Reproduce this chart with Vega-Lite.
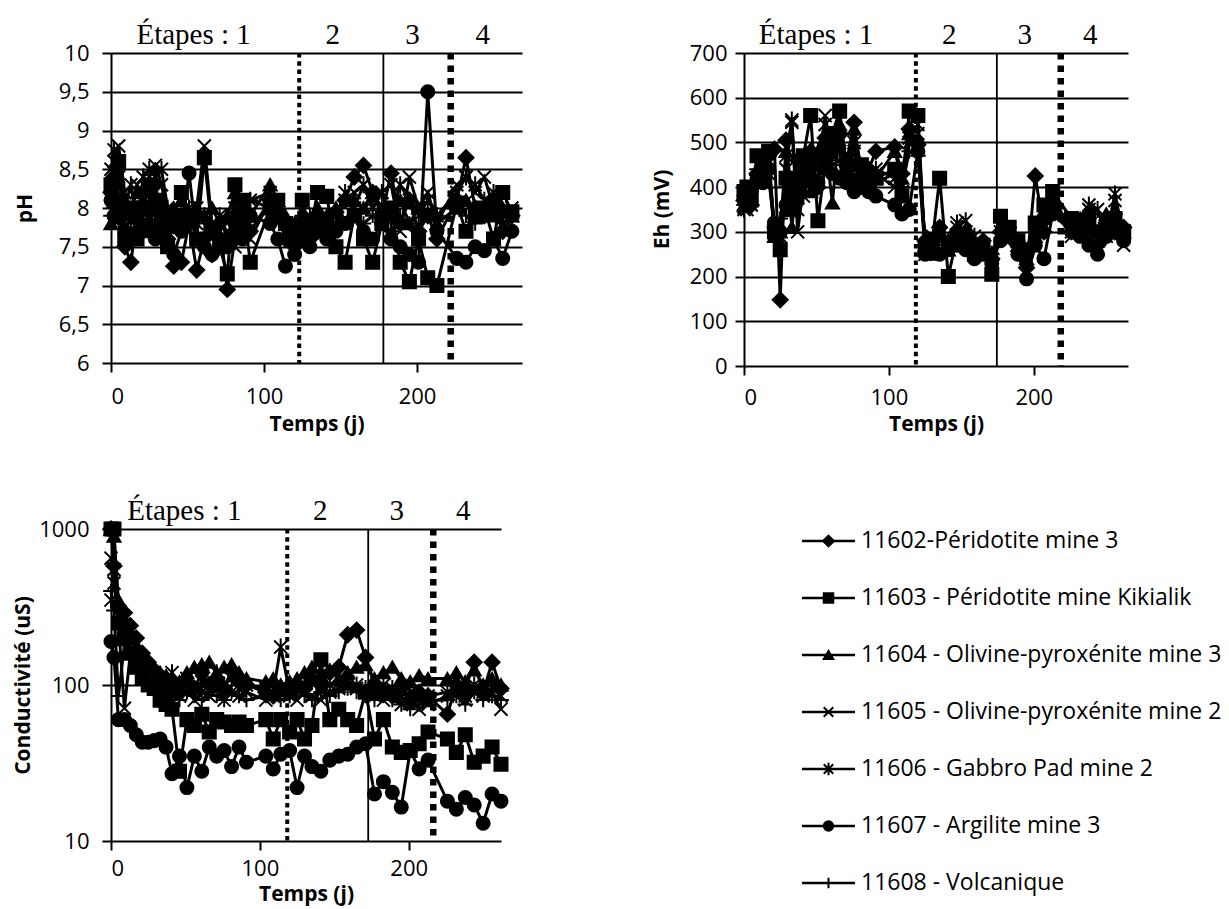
{
"$schema": "https://vega.github.io/schema/vega-lite/v6.json",
"background": "white",
"padding": {"left": 12, "top": 21, "right": 5, "bottom": 10},
"config": {
 "view": {"stroke": null},
 "font": "Open Sans",
 "axis": {"domainColor": "black", "domainWidth": 2, "tickColor": "black", "tickWidth": 2, "tickSize": 9, "labelFont": "Open Sans", "labelFontSize": 22, "labelColor": "black", "titleFont": "Open Sans", "titleFontSize": 21, "titleFontWeight": "bold", "titleColor": "black"},
 "axisX": {"grid": false, "domain": false, "labelPadding": 14, "titleBaseline": "middle"},
 "axisY": {"grid": true, "gridColor": "black", "gridWidth": 2, "gridOpacity": 1, "domain": true, "labelPadding": 13, "titleAngle": -90, "titleAlign": "center", "titleBaseline": "middle"}
},
"datasets": {
"bornes": [
{"panel":"pH","kind":"fin 1","t":123},{"panel":"pH","kind":"fin 2","t":178},{"panel":"pH","kind":"fin 3","t":222},
{"panel":"Eh","kind":"fin 1","t":118.6},{"panel":"Eh","kind":"fin 2","t":174.5},{"panel":"Eh","kind":"fin 3","t":218.6},
{"panel":"C","kind":"fin 1","t":118.4},{"panel":"C","kind":"fin 2","t":172.8},{"panel":"C","kind":"fin 3","t":216.5}
],
"etapes": [
{"panel":"pH","t":54,"label":"Étapes : 1"},{"panel":"pH","t":145,"label":"2"},{"panel":"pH","t":197,"label":"3"},{"panel":"pH","t":243,"label":"4"},
{"panel":"Eh","t":49.7,"label":"Étapes : 1"},{"panel":"Eh","t":141.7,"label":"2"},{"panel":"Eh","t":193.7,"label":"3"},{"panel":"Eh","t":239,"label":"4"},
{"panel":"C","t":49.3,"label":"Étapes : 1"},{"panel":"C","t":140.6,"label":"2"},{"panel":"C","t":192,"label":"3"},{"panel":"C","t":236.6,"label":"4"}
],
"legende": [
{"s":"11602","label":"11602-Péridotite mine 3"},
{"s":"11603","label":"11603 - Péridotite mine Kikialik"},
{"s":"11604","label":"11604 - Olivine-pyroxénite mine 3"},
{"s":"11605","label":"11605 - Olivine-pyroxénite mine 2"},
{"s":"11606","label":"11606 - Gabbro Pad mine 2"},
{"s":"11607","label":"11607 - Argilite mine 3"},
{"s":"11608","label":"11608 - Volcanique"}
],
"mesures": [
{"t":0,"s":"11602","ph":8.2,"eh":370,"c":1000},
{"t":2,"s":"11602","ph":8.4,"eh":390,"c":580},
{"t":5,"s":"11602","ph":8.0,"eh":360,"c":320},
{"t":9,"s":"11602","ph":7.5,"eh":430,"c":290},
{"t":13,"s":"11602","ph":7.3,"eh":460,"c":240},
{"t":17,"s":"11602","ph":7.9,"eh":470,"c":200},
{"t":21,"s":"11602","ph":8.2,"eh":485,"c":160},
{"t":25,"s":"11602","ph":7.7,"eh":148,"c":140},
{"t":29,"s":"11602","ph":8.3,"eh":505,"c":125},
{"t":33,"s":"11602","ph":7.9,"eh":380,"c":115},
{"t":37,"s":"11602","ph":7.6,"eh":460,"c":110},
{"t":41,"s":"11602","ph":7.25,"eh":420,"c":100},
{"t":46,"s":"11602","ph":7.3,"eh":480,"c":90},
{"t":51,"s":"11602","ph":7.8,"eh":400,"c":105},
{"t":56,"s":"11602","ph":7.2,"eh":510,"c":95},
{"t":61,"s":"11602","ph":7.6,"eh":480,"c":120},
{"t":66,"s":"11602","ph":7.4,"eh":520,"c":100},
{"t":71,"s":"11602","ph":7.8,"eh":460,"c":110},
{"t":76,"s":"11602","ph":6.95,"eh":545,"c":95},
{"t":81,"s":"11602","ph":7.6,"eh":420,"c":125},
{"t":86,"s":"11602","ph":7.9,"eh":440,"c":105},
{"t":91,"s":"11602","ph":7.7,"eh":480,"c":100},
{"t":104,"s":"11602","ph":8.1,"eh":490,"c":90},
{"t":109,"s":"11602","ph":7.9,"eh":430,"c":85},
{"t":114,"s":"11602","ph":7.6,"eh":530,"c":95},
{"t":120,"s":"11602","ph":7.5,"eh":495,"c":90},
{"t":125,"s":"11602","ph":7.8,"eh":280,"c":100},
{"t":130,"s":"11602","ph":7.6,"eh":260,"c":95},
{"t":135,"s":"11602","ph":7.9,"eh":310,"c":110},
{"t":141,"s":"11602","ph":7.7,"eh":270,"c":100},
{"t":147,"s":"11602","ph":7.95,"eh":290,"c":120},
{"t":153,"s":"11602","ph":8.1,"eh":300,"c":130},
{"t":159,"s":"11602","ph":8.4,"eh":260,"c":210},
{"t":165,"s":"11602","ph":8.55,"eh":280,"c":225},
{"t":171,"s":"11602","ph":8.2,"eh":240,"c":150},
{"t":177,"s":"11602","ph":7.9,"eh":300,"c":100},
{"t":183,"s":"11602","ph":8.45,"eh":290,"c":90},
{"t":189,"s":"11602","ph":7.8,"eh":270,"c":85},
{"t":195,"s":"11602","ph":8.1,"eh":220,"c":95},
{"t":201,"s":"11602","ph":7.7,"eh":425,"c":80},
{"t":207,"s":"11602","ph":7.9,"eh":300,"c":90},
{"t":213,"s":"11602","ph":7.6,"eh":350,"c":85},
{"t":226,"s":"11602","ph":8.1,"eh":320,"c":65},
{"t":232,"s":"11602","ph":8.65,"eh":300,"c":100},
{"t":238,"s":"11602","ph":8.0,"eh":340,"c":95},
{"t":244,"s":"11602","ph":7.9,"eh":270,"c":140},
{"t":250,"s":"11602","ph":8.1,"eh":320,"c":90},
{"t":256,"s":"11602","ph":7.7,"eh":300,"c":140},
{"t":262,"s":"11602","ph":7.9,"eh":310,"c":95},
{"t":0,"s":"11603","ph":8.3,"eh":390,"c":1000},
{"t":2,"s":"11603","ph":8.1,"eh":400,"c":1000},
{"t":5,"s":"11603","ph":8.6,"eh":380,"c":250},
{"t":9,"s":"11603","ph":7.6,"eh":470,"c":200},
{"t":13,"s":"11603","ph":8.0,"eh":440,"c":160},
{"t":17,"s":"11603","ph":7.6,"eh":480,"c":130},
{"t":21,"s":"11603","ph":8.0,"eh":300,"c":110},
{"t":25,"s":"11603","ph":8.3,"eh":260,"c":100},
{"t":29,"s":"11603","ph":8.1,"eh":420,"c":95},
{"t":33,"s":"11603","ph":7.7,"eh":350,"c":80},
{"t":37,"s":"11603","ph":7.5,"eh":390,"c":75},
{"t":41,"s":"11603","ph":7.9,"eh":470,"c":70},
{"t":46,"s":"11603","ph":8.2,"eh":560,"c":28},
{"t":51,"s":"11603","ph":7.9,"eh":325,"c":60},
{"t":56,"s":"11603","ph":7.6,"eh":450,"c":55},
{"t":61,"s":"11603","ph":8.65,"eh":520,"c":65},
{"t":66,"s":"11603","ph":7.7,"eh":570,"c":50},
{"t":71,"s":"11603","ph":7.5,"eh":440,"c":60},
{"t":76,"s":"11603","ph":7.15,"eh":410,"c":58},
{"t":81,"s":"11603","ph":8.3,"eh":450,"c":55},
{"t":86,"s":"11603","ph":8.1,"eh":400,"c":58},
{"t":91,"s":"11603","ph":7.3,"eh":420,"c":55},
{"t":104,"s":"11603","ph":8.0,"eh":440,"c":60},
{"t":109,"s":"11603","ph":8.1,"eh":380,"c":45},
{"t":114,"s":"11603","ph":7.8,"eh":570,"c":60},
{"t":120,"s":"11603","ph":7.6,"eh":560,"c":50},
{"t":125,"s":"11603","ph":8.1,"eh":260,"c":60},
{"t":130,"s":"11603","ph":7.7,"eh":280,"c":45},
{"t":135,"s":"11603","ph":8.2,"eh":420,"c":55},
{"t":141,"s":"11603","ph":8.15,"eh":200,"c":145},
{"t":147,"s":"11603","ph":7.5,"eh":290,"c":60},
{"t":153,"s":"11603","ph":7.3,"eh":280,"c":70},
{"t":159,"s":"11603","ph":7.9,"eh":250,"c":60},
{"t":165,"s":"11603","ph":7.6,"eh":270,"c":55},
{"t":171,"s":"11603","ph":7.3,"eh":205,"c":90},
{"t":177,"s":"11603","ph":7.8,"eh":335,"c":45},
{"t":183,"s":"11603","ph":8.0,"eh":310,"c":60},
{"t":189,"s":"11603","ph":7.3,"eh":280,"c":40},
{"t":195,"s":"11603","ph":7.05,"eh":260,"c":37},
{"t":201,"s":"11603","ph":7.6,"eh":320,"c":38},
{"t":207,"s":"11603","ph":7.1,"eh":360,"c":42},
{"t":213,"s":"11603","ph":7.0,"eh":390,"c":50},
{"t":226,"s":"11603","ph":8.05,"eh":330,"c":45},
{"t":232,"s":"11603","ph":7.7,"eh":310,"c":37},
{"t":238,"s":"11603","ph":7.9,"eh":320,"c":48},
{"t":244,"s":"11603","ph":8.0,"eh":300,"c":32},
{"t":250,"s":"11603","ph":7.6,"eh":310,"c":35},
{"t":256,"s":"11603","ph":8.2,"eh":330,"c":40},
{"t":262,"s":"11603","ph":7.95,"eh":300,"c":31},
{"t":0,"s":"11604","ph":7.8,"eh":360,"c":1000},
{"t":2,"s":"11604","ph":8.2,"eh":380,"c":900},
{"t":5,"s":"11604","ph":8.3,"eh":370,"c":350},
{"t":9,"s":"11604","ph":8.1,"eh":440,"c":250},
{"t":13,"s":"11604","ph":8.0,"eh":460,"c":200},
{"t":17,"s":"11604","ph":8.2,"eh":450,"c":170},
{"t":21,"s":"11604","ph":8.1,"eh":290,"c":150},
{"t":25,"s":"11604","ph":8.2,"eh":300,"c":130},
{"t":29,"s":"11604","ph":8.0,"eh":480,"c":125},
{"t":33,"s":"11604","ph":8.1,"eh":310,"c":120},
{"t":37,"s":"11604","ph":7.8,"eh":420,"c":115},
{"t":41,"s":"11604","ph":8.0,"eh":440,"c":110},
{"t":46,"s":"11604","ph":8.1,"eh":390,"c":105},
{"t":51,"s":"11604","ph":7.9,"eh":480,"c":120},
{"t":56,"s":"11604","ph":8.0,"eh":500,"c":130},
{"t":61,"s":"11604","ph":7.9,"eh":365,"c":135},
{"t":66,"s":"11604","ph":8.0,"eh":540,"c":140},
{"t":71,"s":"11604","ph":7.8,"eh":430,"c":120},
{"t":76,"s":"11604","ph":7.9,"eh":530,"c":130},
{"t":81,"s":"11604","ph":8.2,"eh":440,"c":135},
{"t":86,"s":"11604","ph":8.0,"eh":410,"c":120},
{"t":91,"s":"11604","ph":7.9,"eh":420,"c":110},
{"t":104,"s":"11604","ph":8.3,"eh":480,"c":105},
{"t":109,"s":"11604","ph":8.1,"eh":420,"c":110},
{"t":114,"s":"11604","ph":7.9,"eh":520,"c":100},
{"t":120,"s":"11604","ph":7.8,"eh":510,"c":105},
{"t":125,"s":"11604","ph":7.9,"eh":270,"c":110},
{"t":130,"s":"11604","ph":7.8,"eh":250,"c":120},
{"t":135,"s":"11604","ph":8.0,"eh":290,"c":130},
{"t":141,"s":"11604","ph":7.9,"eh":260,"c":115},
{"t":147,"s":"11604","ph":8.0,"eh":300,"c":125},
{"t":153,"s":"11604","ph":7.8,"eh":290,"c":110},
{"t":159,"s":"11604","ph":8.1,"eh":280,"c":120},
{"t":165,"s":"11604","ph":8.0,"eh":260,"c":130},
{"t":171,"s":"11604","ph":8.2,"eh":250,"c":135},
{"t":177,"s":"11604","ph":8.0,"eh":310,"c":110},
{"t":183,"s":"11604","ph":7.9,"eh":300,"c":120},
{"t":189,"s":"11604","ph":8.1,"eh":270,"c":130},
{"t":195,"s":"11604","ph":7.8,"eh":240,"c":110},
{"t":201,"s":"11604","ph":8.0,"eh":290,"c":105},
{"t":207,"s":"11604","ph":7.9,"eh":330,"c":115},
{"t":213,"s":"11604","ph":7.8,"eh":370,"c":110},
{"t":226,"s":"11604","ph":8.0,"eh":310,"c":110},
{"t":232,"s":"11604","ph":8.1,"eh":330,"c":120},
{"t":238,"s":"11604","ph":7.9,"eh":300,"c":105},
{"t":244,"s":"11604","ph":8.0,"eh":280,"c":125},
{"t":250,"s":"11604","ph":7.9,"eh":340,"c":100},
{"t":256,"s":"11604","ph":8.0,"eh":320,"c":110},
{"t":262,"s":"11604","ph":7.9,"eh":300,"c":100},
{"t":0,"s":"11605","ph":8.5,"eh":355,"c":650},
{"t":2,"s":"11605","ph":8.6,"eh":350,"c":450},
{"t":5,"s":"11605","ph":8.8,"eh":380,"c":250},
{"t":9,"s":"11605","ph":8.2,"eh":420,"c":71},
{"t":13,"s":"11605","ph":7.9,"eh":450,"c":160},
{"t":17,"s":"11605","ph":8.3,"eh":430,"c":150},
{"t":21,"s":"11605","ph":8.0,"eh":310,"c":130},
{"t":25,"s":"11605","ph":8.4,"eh":290,"c":120},
{"t":29,"s":"11605","ph":8.55,"eh":440,"c":110},
{"t":33,"s":"11605","ph":8.3,"eh":545,"c":100},
{"t":37,"s":"11605","ph":7.9,"eh":300,"c":95},
{"t":41,"s":"11605","ph":7.7,"eh":400,"c":90},
{"t":46,"s":"11605","ph":7.9,"eh":460,"c":85},
{"t":51,"s":"11605","ph":7.8,"eh":440,"c":95},
{"t":56,"s":"11605","ph":8.0,"eh":560,"c":80},
{"t":61,"s":"11605","ph":8.8,"eh":470,"c":90},
{"t":66,"s":"11605","ph":7.8,"eh":500,"c":85},
{"t":71,"s":"11605","ph":7.6,"eh":440,"c":95},
{"t":76,"s":"11605","ph":7.7,"eh":480,"c":80},
{"t":81,"s":"11605","ph":7.5,"eh":410,"c":90},
{"t":86,"s":"11605","ph":7.9,"eh":420,"c":85},
{"t":91,"s":"11605","ph":7.6,"eh":430,"c":90},
{"t":104,"s":"11605","ph":8.1,"eh":400,"c":80},
{"t":109,"s":"11605","ph":7.9,"eh":380,"c":85},
{"t":114,"s":"11605","ph":7.7,"eh":510,"c":90},
{"t":120,"s":"11605","ph":7.7,"eh":540,"c":85},
{"t":125,"s":"11605","ph":7.6,"eh":250,"c":80},
{"t":130,"s":"11605","ph":7.8,"eh":290,"c":90},
{"t":135,"s":"11605","ph":7.7,"eh":280,"c":85},
{"t":141,"s":"11605","ph":7.9,"eh":270,"c":80},
{"t":147,"s":"11605","ph":7.8,"eh":310,"c":90},
{"t":153,"s":"11605","ph":8.1,"eh":300,"c":95},
{"t":159,"s":"11605","ph":8.2,"eh":270,"c":100},
{"t":165,"s":"11605","ph":8.3,"eh":250,"c":95},
{"t":171,"s":"11605","ph":8.1,"eh":240,"c":90},
{"t":177,"s":"11605","ph":8.2,"eh":300,"c":85},
{"t":183,"s":"11605","ph":8.3,"eh":290,"c":80},
{"t":189,"s":"11605","ph":7.7,"eh":260,"c":90},
{"t":195,"s":"11605","ph":8.4,"eh":210,"c":75},
{"t":201,"s":"11605","ph":8.0,"eh":300,"c":85},
{"t":207,"s":"11605","ph":8.2,"eh":340,"c":70},
{"t":213,"s":"11605","ph":7.8,"eh":360,"c":75},
{"t":226,"s":"11605","ph":8.3,"eh":290,"c":85},
{"t":232,"s":"11605","ph":8.4,"eh":320,"c":90},
{"t":238,"s":"11605","ph":8.2,"eh":350,"c":80},
{"t":244,"s":"11605","ph":8.4,"eh":260,"c":95},
{"t":250,"s":"11605","ph":8.0,"eh":300,"c":85},
{"t":256,"s":"11605","ph":7.9,"eh":370,"c":90},
{"t":262,"s":"11605","ph":8.0,"eh":270,"c":70},
{"t":0,"s":"11606","ph":8.2,"eh":350,"c":350},
{"t":2,"s":"11606","ph":8.75,"eh":370,"c":550},
{"t":5,"s":"11606","ph":8.4,"eh":360,"c":280},
{"t":9,"s":"11606","ph":8.0,"eh":410,"c":220},
{"t":13,"s":"11606","ph":8.3,"eh":440,"c":180},
{"t":17,"s":"11606","ph":7.8,"eh":460,"c":150},
{"t":21,"s":"11606","ph":8.4,"eh":300,"c":135},
{"t":25,"s":"11606","ph":8.5,"eh":280,"c":125},
{"t":29,"s":"11606","ph":8.4,"eh":470,"c":120},
{"t":33,"s":"11606","ph":8.5,"eh":550,"c":110},
{"t":37,"s":"11606","ph":8.0,"eh":350,"c":105},
{"t":41,"s":"11606","ph":7.8,"eh":380,"c":120},
{"t":46,"s":"11606","ph":7.9,"eh":430,"c":100},
{"t":51,"s":"11606","ph":8.0,"eh":480,"c":110},
{"t":56,"s":"11606","ph":7.8,"eh":540,"c":95},
{"t":61,"s":"11606","ph":7.9,"eh":500,"c":105},
{"t":66,"s":"11606","ph":7.7,"eh":480,"c":100},
{"t":71,"s":"11606","ph":7.9,"eh":450,"c":120},
{"t":76,"s":"11606","ph":7.6,"eh":500,"c":100},
{"t":81,"s":"11606","ph":8.0,"eh":430,"c":110},
{"t":86,"s":"11606","ph":7.7,"eh":410,"c":95},
{"t":91,"s":"11606","ph":8.1,"eh":440,"c":100},
{"t":104,"s":"11606","ph":8.2,"eh":420,"c":95},
{"t":109,"s":"11606","ph":7.9,"eh":390,"c":90},
{"t":114,"s":"11606","ph":7.8,"eh":500,"c":175},
{"t":120,"s":"11606","ph":7.7,"eh":520,"c":90},
{"t":125,"s":"11606","ph":7.8,"eh":260,"c":95},
{"t":130,"s":"11606","ph":7.9,"eh":270,"c":100},
{"t":135,"s":"11606","ph":7.7,"eh":300,"c":105},
{"t":141,"s":"11606","ph":7.8,"eh":280,"c":95},
{"t":147,"s":"11606","ph":7.9,"eh":320,"c":100},
{"t":153,"s":"11606","ph":8.2,"eh":325,"c":110},
{"t":159,"s":"11606","ph":8.0,"eh":290,"c":105},
{"t":165,"s":"11606","ph":8.3,"eh":270,"c":100},
{"t":171,"s":"11606","ph":8.0,"eh":250,"c":95},
{"t":177,"s":"11606","ph":8.2,"eh":290,"c":90},
{"t":183,"s":"11606","ph":7.9,"eh":300,"c":100},
{"t":189,"s":"11606","ph":8.3,"eh":280,"c":95},
{"t":195,"s":"11606","ph":8.1,"eh":230,"c":85},
{"t":201,"s":"11606","ph":7.9,"eh":310,"c":90},
{"t":207,"s":"11606","ph":8.1,"eh":350,"c":80},
{"t":213,"s":"11606","ph":7.9,"eh":380,"c":85},
{"t":226,"s":"11606","ph":8.2,"eh":300,"c":90},
{"t":232,"s":"11606","ph":8.4,"eh":310,"c":95},
{"t":238,"s":"11606","ph":8.3,"eh":360,"c":85},
{"t":244,"s":"11606","ph":8.1,"eh":350,"c":100},
{"t":250,"s":"11606","ph":8.2,"eh":290,"c":90},
{"t":256,"s":"11606","ph":7.8,"eh":385,"c":95},
{"t":262,"s":"11606","ph":7.9,"eh":290,"c":85},
{"t":0,"s":"11607","ph":8.1,"eh":380,"c":190},
{"t":2,"s":"11607","ph":7.9,"eh":360,"c":150},
{"t":5,"s":"11607","ph":8.0,"eh":390,"c":60},
{"t":9,"s":"11607","ph":7.7,"eh":420,"c":60},
{"t":13,"s":"11607","ph":7.6,"eh":410,"c":55},
{"t":17,"s":"11607","ph":7.9,"eh":440,"c":48},
{"t":21,"s":"11607","ph":7.7,"eh":320,"c":43},
{"t":25,"s":"11607","ph":7.8,"eh":300,"c":43},
{"t":29,"s":"11607","ph":7.6,"eh":360,"c":44},
{"t":33,"s":"11607","ph":7.9,"eh":400,"c":45},
{"t":37,"s":"11607","ph":7.5,"eh":380,"c":40},
{"t":41,"s":"11607","ph":7.4,"eh":440,"c":27},
{"t":46,"s":"11607","ph":7.7,"eh":420,"c":35},
{"t":51,"s":"11607","ph":8.45,"eh":410,"c":22},
{"t":56,"s":"11607","ph":7.6,"eh":460,"c":35},
{"t":61,"s":"11607","ph":7.5,"eh":430,"c":28},
{"t":66,"s":"11607","ph":7.4,"eh":420,"c":40},
{"t":71,"s":"11607","ph":7.6,"eh":410,"c":35},
{"t":76,"s":"11607","ph":7.5,"eh":390,"c":38},
{"t":81,"s":"11607","ph":7.8,"eh":400,"c":30},
{"t":86,"s":"11607","ph":7.6,"eh":390,"c":40},
{"t":91,"s":"11607","ph":7.9,"eh":380,"c":32},
{"t":104,"s":"11607","ph":7.8,"eh":360,"c":35},
{"t":109,"s":"11607","ph":7.6,"eh":340,"c":29},
{"t":114,"s":"11607","ph":7.25,"eh":350,"c":36},
{"t":120,"s":"11607","ph":7.4,"eh":480,"c":38},
{"t":125,"s":"11607","ph":7.6,"eh":250,"c":22},
{"t":130,"s":"11607","ph":7.5,"eh":260,"c":35},
{"t":135,"s":"11607","ph":7.7,"eh":250,"c":30},
{"t":141,"s":"11607","ph":7.6,"eh":260,"c":28},
{"t":147,"s":"11607","ph":7.7,"eh":270,"c":33},
{"t":153,"s":"11607","ph":7.8,"eh":260,"c":35},
{"t":159,"s":"11607","ph":7.9,"eh":240,"c":36},
{"t":165,"s":"11607","ph":7.7,"eh":250,"c":40},
{"t":171,"s":"11607","ph":7.6,"eh":230,"c":42},
{"t":177,"s":"11607","ph":7.8,"eh":280,"c":20},
{"t":183,"s":"11607","ph":7.6,"eh":290,"c":24},
{"t":189,"s":"11607","ph":7.5,"eh":250,"c":20.5},
{"t":195,"s":"11607","ph":7.4,"eh":195,"c":16.5},
{"t":201,"s":"11607","ph":7.3,"eh":270,"c":38},
{"t":207,"s":"11607","ph":9.5,"eh":240,"c":29},
{"t":213,"s":"11607","ph":7.7,"eh":340,"c":33},
{"t":226,"s":"11607","ph":7.35,"eh":300,"c":18},
{"t":232,"s":"11607","ph":7.3,"eh":290,"c":16},
{"t":238,"s":"11607","ph":7.5,"eh":270,"c":19},
{"t":244,"s":"11607","ph":7.45,"eh":250,"c":17},
{"t":250,"s":"11607","ph":7.6,"eh":290,"c":13},
{"t":256,"s":"11607","ph":7.35,"eh":300,"c":20},
{"t":262,"s":"11607","ph":7.7,"eh":280,"c":18},
{"t":0,"s":"11608","ph":7.9,"eh":360,"c":400},
{"t":2,"s":"11608","ph":8.0,"eh":380,"c":300},
{"t":5,"s":"11608","ph":7.8,"eh":400,"c":85},
{"t":9,"s":"11608","ph":7.9,"eh":440,"c":180},
{"t":13,"s":"11608","ph":7.8,"eh":430,"c":150},
{"t":17,"s":"11608","ph":7.9,"eh":420,"c":130},
{"t":21,"s":"11608","ph":7.8,"eh":310,"c":120},
{"t":25,"s":"11608","ph":7.9,"eh":330,"c":110},
{"t":29,"s":"11608","ph":7.8,"eh":400,"c":100},
{"t":33,"s":"11608","ph":7.9,"eh":420,"c":95},
{"t":37,"s":"11608","ph":7.7,"eh":410,"c":90},
{"t":41,"s":"11608","ph":7.8,"eh":430,"c":85},
{"t":46,"s":"11608","ph":7.9,"eh":450,"c":80},
{"t":51,"s":"11608","ph":7.8,"eh":440,"c":90},
{"t":56,"s":"11608","ph":7.9,"eh":470,"c":85},
{"t":61,"s":"11608","ph":7.8,"eh":450,"c":80},
{"t":66,"s":"11608","ph":7.7,"eh":460,"c":90},
{"t":71,"s":"11608","ph":7.8,"eh":430,"c":85},
{"t":76,"s":"11608","ph":7.9,"eh":450,"c":80},
{"t":81,"s":"11608","ph":7.7,"eh":420,"c":90},
{"t":86,"s":"11608","ph":7.8,"eh":430,"c":85},
{"t":91,"s":"11608","ph":8.1,"eh":410,"c":80},
{"t":104,"s":"11608","ph":8.0,"eh":430,"c":85},
{"t":109,"s":"11608","ph":7.9,"eh":400,"c":90},
{"t":114,"s":"11608","ph":7.8,"eh":480,"c":80},
{"t":120,"s":"11608","ph":7.8,"eh":470,"c":85},
{"t":125,"s":"11608","ph":7.9,"eh":280,"c":90},
{"t":130,"s":"11608","ph":7.8,"eh":270,"c":85},
{"t":135,"s":"11608","ph":7.9,"eh":290,"c":80},
{"t":141,"s":"11608","ph":7.8,"eh":280,"c":90},
{"t":147,"s":"11608","ph":7.9,"eh":300,"c":85},
{"t":153,"s":"11608","ph":7.8,"eh":290,"c":90},
{"t":159,"s":"11608","ph":7.9,"eh":270,"c":95},
{"t":165,"s":"11608","ph":7.8,"eh":260,"c":90},
{"t":171,"s":"11608","ph":7.9,"eh":250,"c":85},
{"t":177,"s":"11608","ph":7.8,"eh":300,"c":80},
{"t":183,"s":"11608","ph":7.7,"eh":310,"c":85},
{"t":189,"s":"11608","ph":7.9,"eh":280,"c":80},
{"t":195,"s":"11608","ph":7.8,"eh":250,"c":75},
{"t":201,"s":"11608","ph":7.7,"eh":300,"c":70},
{"t":207,"s":"11608","ph":7.9,"eh":320,"c":75},
{"t":213,"s":"11608","ph":7.9,"eh":360,"c":80},
{"t":226,"s":"11608","ph":8.15,"eh":310,"c":80},
{"t":232,"s":"11608","ph":7.9,"eh":320,"c":85},
{"t":238,"s":"11608","ph":7.8,"eh":330,"c":75},
{"t":244,"s":"11608","ph":7.9,"eh":300,"c":90},
{"t":250,"s":"11608","ph":8.0,"eh":320,"c":80},
{"t":256,"s":"11608","ph":7.8,"eh":340,"c":85},
{"t":262,"s":"11608","ph":7.9,"eh":310,"c":80}
]
},
"columns": 2,
"spacing": {"row": 163, "column": 222},
"bounds": "flush",
"concat": [
{
"width": 411, "height": 310,
"layer": [
{"data": {"name": "bornes"}, "transform": [{"filter": "datum.panel === 'pH'"}],
 "mark": {"type": "rule", "color": "black"},
 "encoding": {
  "x": {"field": "t", "type": "quantitative", "scale": {"domain": [0, 268.6], "nice": false, "zero": false}, "axis": {"values": [0, 100, 200], "title": "Temps (j)", "titleY": 61}},
  "strokeDash": {"field": "kind", "type": "nominal", "scale": {"domain": ["fin 1", "fin 2", "fin 3"], "range": [[4.5, 3.8], [1, 0], [6.5, 6]]}, "legend": null},
  "strokeWidth": {"field": "kind", "type": "nominal", "scale": {"type": "ordinal", "domain": ["fin 1", "fin 2", "fin 3"], "range": [4, 1.8, 6.5]}, "legend": null}
 }},
{"data": {"name": "mesures"},
 "mark": {"type": "line", "color": "black", "strokeWidth": 3},
 "encoding": {
  "x": {"field": "t", "type": "quantitative", "scale": {"domain": [0, 268.6], "nice": false, "zero": false}, "axis": {"values": [0, 100, 200], "title": "Temps (j)", "titleY": 61}},
  "y": {"field": "ph", "type": "quantitative", "scale": {"domain": [6, 10], "nice": false, "zero": false}, "axis": {"values": [6, 6.5, 7, 7.5, 8, 8.5, 9, 9.5, 10], "format": "~g", "labelExpr": "replace(datum.label, '.', ',')", "title": "pH", "titleX": -86, "titleY": 155}},
  "detail": {"field": "s"}
 }},
{"data": {"name": "mesures"},
 "mark": {"type": "point", "filled": true, "fill": "black", "stroke": "black", "strokeWidth": 2, "size": 170, "opacity": 1},
 "encoding": {
  "x": {"field": "t", "type": "quantitative", "scale": {"domain": [0, 268.6], "nice": false, "zero": false}, "axis": {"values": [0, 100, 200], "title": "Temps (j)", "titleY": 61}},
  "y": {"field": "ph", "type": "quantitative", "scale": {"domain": [6, 10], "nice": false, "zero": false}, "axis": {"values": [6, 6.5, 7, 7.5, 8, 8.5, 9, 9.5, 10], "format": "~g", "labelExpr": "replace(datum.label, '.', ',')", "title": "pH", "titleX": -86, "titleY": 155}},
  "shape": {"field": "s", "type": "nominal", "scale": {"domain": ["11602", "11603", "11604", "11605", "11606", "11607", "11608"], "range": ["M-1.15,0L0,-1.15L1.15,0L0,1.15Z", "square", "triangle-up", "M-1,-1L1,1M-1,1L1,-1", "M-1,-1L1,1M-1,1L1,-1M0,-1.3L0,1.3", "circle", "M-1.2,0L1.2,0M0,-1.1L0,1.1"]}, "legend": null}
 }},
{"data": {"name": "etapes"}, "transform": [{"filter": "datum.panel === 'pH'"}],
 "mark": {"type": "text", "font": "Liberation Serif", "fontSize": 29, "color": "black", "baseline": "alphabetic", "dy": -9},
 "encoding": {
  "x": {"field": "t", "type": "quantitative", "scale": {"domain": [0, 268.6], "nice": false, "zero": false}, "axis": {"values": [0, 100, 200], "title": "Temps (j)", "titleY": 61}},
  "y": {"datum": 10, "type": "quantitative", "scale": {"domain": [6, 10], "nice": false, "zero": false}, "axis": {"values": [6, 6.5, 7, 7.5, 8, 8.5, 9, 9.5, 10], "format": "~g", "labelExpr": "replace(datum.label, '.', ',')", "title": "pH", "titleX": -86, "titleY": 155}},
  "text": {"field": "label"}
 }}
]
},
{
"width": 384, "height": 313,
"layer": [
{"data": {"name": "bornes"}, "transform": [{"filter": "datum.panel === 'Eh'"}],
 "mark": {"type": "rule", "color": "black"},
 "encoding": {
  "x": {"field": "t", "type": "quantitative", "scale": {"domain": [0, 265], "nice": false, "zero": false}, "axis": {"values": [0, 100, 200], "title": "Temps (j)", "titleY": 58, "labelPadding": 12}},
  "strokeDash": {"field": "kind", "type": "nominal", "scale": {"domain": ["fin 1", "fin 2", "fin 3"], "range": [[4.5, 3.8], [1, 0], [6.5, 6]]}, "legend": null},
  "strokeWidth": {"field": "kind", "type": "nominal", "scale": {"type": "ordinal", "domain": ["fin 1", "fin 2", "fin 3"], "range": [4, 1.8, 6.5]}, "legend": null}
 }},
{"data": {"name": "mesures"},
 "mark": {"type": "line", "color": "black", "strokeWidth": 3},
 "encoding": {
  "x": {"field": "t", "type": "quantitative", "scale": {"domain": [0, 265], "nice": false, "zero": false}, "axis": {"values": [0, 100, 200], "title": "Temps (j)", "titleY": 58, "labelPadding": 12}},
  "y": {"field": "eh", "type": "quantitative", "scale": {"domain": [0, 700], "nice": false, "zero": false}, "axis": {"values": [0, 100, 200, 300, 400, 500, 600, 700], "title": "Eh (mV)", "titleX": -82, "titleY": 156, "labelPadding": 8}},
  "detail": {"field": "s"}
 }},
{"data": {"name": "mesures"},
 "mark": {"type": "point", "filled": true, "fill": "black", "stroke": "black", "strokeWidth": 2, "size": 170, "opacity": 1},
 "encoding": {
  "x": {"field": "t", "type": "quantitative", "scale": {"domain": [0, 265], "nice": false, "zero": false}, "axis": {"values": [0, 100, 200], "title": "Temps (j)", "titleY": 58, "labelPadding": 12}},
  "y": {"field": "eh", "type": "quantitative", "scale": {"domain": [0, 700], "nice": false, "zero": false}, "axis": {"values": [0, 100, 200, 300, 400, 500, 600, 700], "title": "Eh (mV)", "titleX": -82, "titleY": 156, "labelPadding": 8}},
  "shape": {"field": "s", "type": "nominal", "scale": {"domain": ["11602", "11603", "11604", "11605", "11606", "11607", "11608"], "range": ["M-1.15,0L0,-1.15L1.15,0L0,1.15Z", "square", "triangle-up", "M-1,-1L1,1M-1,1L1,-1", "M-1,-1L1,1M-1,1L1,-1M0,-1.3L0,1.3", "circle", "M-1.2,0L1.2,0M0,-1.1L0,1.1"]}, "legend": null}
 }},
{"data": {"name": "etapes"}, "transform": [{"filter": "datum.panel === 'Eh'"}],
 "mark": {"type": "text", "font": "Liberation Serif", "fontSize": 29, "color": "black", "baseline": "alphabetic", "dy": -9},
 "encoding": {
  "x": {"field": "t", "type": "quantitative", "scale": {"domain": [0, 265], "nice": false, "zero": false}, "axis": {"values": [0, 100, 200], "title": "Temps (j)", "titleY": 58, "labelPadding": 12}},
  "y": {"datum": 700, "type": "quantitative", "scale": {"domain": [0, 700], "nice": false, "zero": false}, "axis": {"values": [0, 100, 200, 300, 400, 500, 600, 700], "title": "Eh (mV)", "titleX": -82, "titleY": 156, "labelPadding": 8}},
  "text": {"field": "label"}
 }}
]
},
{
"width": 390, "height": 312,
"layer": [
{"data": {"name": "bornes"}, "transform": [{"filter": "datum.panel === 'C'"}],
 "mark": {"type": "rule", "color": "black"},
 "encoding": {
  "x": {"field": "t", "type": "quantitative", "scale": {"domain": [0, 262], "nice": false, "zero": false}, "axis": {"values": [0, 100, 200], "title": "Temps (j)", "titleY": 53, "labelPadding": 8}},
  "strokeDash": {"field": "kind", "type": "nominal", "scale": {"domain": ["fin 1", "fin 2", "fin 3"], "range": [[4.5, 3.8], [1, 0], [6.5, 6]]}, "legend": null},
  "strokeWidth": {"field": "kind", "type": "nominal", "scale": {"type": "ordinal", "domain": ["fin 1", "fin 2", "fin 3"], "range": [4, 1.8, 6.5]}, "legend": null}
 }},
{"data": {"name": "mesures"},
 "mark": {"type": "line", "color": "black", "strokeWidth": 3},
 "encoding": {
  "x": {"field": "t", "type": "quantitative", "scale": {"domain": [0, 262], "nice": false, "zero": false}, "axis": {"values": [0, 100, 200], "title": "Temps (j)", "titleY": 53, "labelPadding": 8}},
  "y": {"field": "c", "type": "quantitative", "scale": {"type": "log", "domain": [10, 1000], "nice": false}, "axis": {"values": [10, 100, 1000], "format": "d", "title": "Conductivité (uS)", "titleX": -88, "titleY": 156}},
  "detail": {"field": "s"}
 }},
{"data": {"name": "mesures"},
 "mark": {"type": "point", "filled": true, "fill": "black", "stroke": "black", "strokeWidth": 2, "size": 170, "opacity": 1},
 "encoding": {
  "x": {"field": "t", "type": "quantitative", "scale": {"domain": [0, 262], "nice": false, "zero": false}, "axis": {"values": [0, 100, 200], "title": "Temps (j)", "titleY": 53, "labelPadding": 8}},
  "y": {"field": "c", "type": "quantitative", "scale": {"type": "log", "domain": [10, 1000], "nice": false}, "axis": {"values": [10, 100, 1000], "format": "d", "title": "Conductivité (uS)", "titleX": -88, "titleY": 156}},
  "shape": {"field": "s", "type": "nominal", "scale": {"domain": ["11602", "11603", "11604", "11605", "11606", "11607", "11608"], "range": ["M-1.15,0L0,-1.15L1.15,0L0,1.15Z", "square", "triangle-up", "M-1,-1L1,1M-1,1L1,-1", "M-1,-1L1,1M-1,1L1,-1M0,-1.3L0,1.3", "circle", "M-1.2,0L1.2,0M0,-1.1L0,1.1"]}, "legend": null}
 }},
{"data": {"name": "etapes"}, "transform": [{"filter": "datum.panel === 'C'"}],
 "mark": {"type": "text", "font": "Liberation Serif", "fontSize": 29, "color": "black", "baseline": "alphabetic", "dy": -9},
 "encoding": {
  "x": {"field": "t", "type": "quantitative", "scale": {"domain": [0, 262], "nice": false, "zero": false}, "axis": {"values": [0, 100, 200], "title": "Temps (j)", "titleY": 53, "labelPadding": 8}},
  "y": {"datum": 1000, "type": "quantitative", "scale": {"type": "log", "domain": [10, 1000], "nice": false}, "axis": {"values": [10, 100, 1000], "format": "d", "title": "Conductivité (uS)", "titleX": -88, "titleY": 156}},
  "text": {"field": "label"}
 }}
]
},
{
"width": 111, "height": 366,
"data": {"name": "legende"},
"layer": [
{"mark": {"type": "rule", "color": "black", "strokeWidth": 2.5},
 "encoding": {
  "y": {"field": "label", "type": "nominal", "sort": null, "scale": {"type": "point", "padding": 0.2105}, "axis": null},
  "x": {"datum": 0, "type": "quantitative", "scale": {"domain": [-1.094, 1], "nice": false, "zero": false}, "axis": null},
  "x2": {"datum": 1}
 }},
{"mark": {"type": "point", "filled": true, "fill": "black", "stroke": "black", "strokeWidth": 2, "size": 90, "opacity": 1},
 "encoding": {
  "y": {"field": "label", "type": "nominal", "sort": null, "scale": {"type": "point", "padding": 0.2105}, "axis": null},
  "x": {"datum": 0.5, "type": "quantitative", "scale": {"domain": [-1.094, 1], "nice": false, "zero": false}, "axis": null},
  "shape": {"field": "s", "type": "nominal", "scale": {"domain": ["11602", "11603", "11604", "11605", "11606", "11607", "11608"], "range": ["M-1.15,0L0,-1.15L1.15,0L0,1.15Z", "square", "triangle-up", "M-1,-1L1,1M-1,1L1,-1", "M-1,-1L1,1M-1,1L1,-1M0,-1.3L0,1.3", "circle", "M-1.2,0L1.2,0M0,-1.1L0,1.1"]}, "legend": null}
 }},
{"mark": {"type": "text", "align": "left", "baseline": "middle", "dx": 6, "font": "Open Sans", "fontSize": 23, "color": "black"},
 "encoding": {
  "y": {"field": "label", "type": "nominal", "sort": null, "scale": {"type": "point", "padding": 0.2105}, "axis": null},
  "x": {"datum": 1, "type": "quantitative", "scale": {"domain": [-1.094, 1], "nice": false, "zero": false}, "axis": null},
  "text": {"field": "label"}
 }}
]
}
]
}
